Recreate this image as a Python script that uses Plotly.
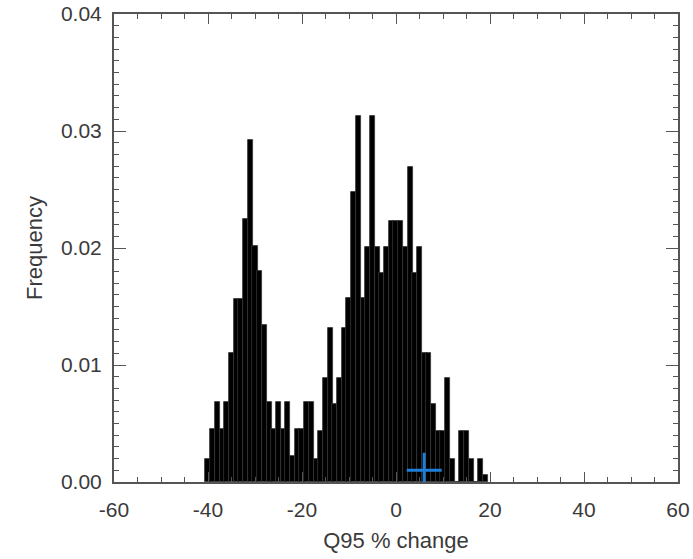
import plotly.graph_objects as go

# histogram bin centres (Q95 % change) and frequencies
bin_centers = list(range(-40, 20))
frequencies = [
    0.0020, 0.0045, 0.0068, 0.0045, 0.0068, 0.0110, 0.0156, 0.0156, 0.0225, 0.0292,  # -40..-31
    0.0202, 0.0180, 0.0134, 0.0068, 0.0045, 0.0068, 0.0045, 0.0068, 0.0022, 0.0045,  # -30..-21
    0.0045, 0.0068, 0.0068, 0.0020, 0.0044, 0.0089, 0.0132, 0.0067, 0.0089, 0.0132,  # -20..-11
    0.0157, 0.0248, 0.0313, 0.0157, 0.0201, 0.0313, 0.0201, 0.0179, 0.0201, 0.0223,  # -10..-1
    0.0223, 0.0223, 0.0201, 0.0269, 0.0179, 0.0201, 0.0110, 0.0110, 0.0067, 0.0044,  # 0..9
    0.0044, 0.0089, 0.0020, 0.0000, 0.0044, 0.0044, 0.0020, 0.0000, 0.0020, 0.0006,  # 10..19
]

# observed value marker
marker_x = [6.0]
marker_y = [0.001]

x_ticks = [-60, -40, -20, 0, 20, 40, 60]
y_ticks = [0.00, 0.01, 0.02, 0.03, 0.04]

fig = go.Figure()
fig.add_trace(go.Bar(
    x=bin_centers, y=frequencies, width=1.1,
    marker=dict(color="black", line=dict(color="#333333", width=0.8)),
    showlegend=False,
))
fig.add_trace(go.Scatter(
    x=marker_x, y=marker_y, mode="markers",
    marker=dict(symbol="cross-thin", size=25, line=dict(color="#1f7fd6", width=3)),
    showlegend=False,
))

tick_font = dict(family="Liberation Sans, Arial", size=21, color="#3a3a3a")
title_font = dict(family="Liberation Sans, Arial", size=22, color="#3a3a3a")

fig.update_layout(
    width=693, height=559,
    margin=dict(l=114, r=15, t=14, b=77),
    paper_bgcolor="white", plot_bgcolor="white",
    bargap=0,
    font=tick_font,
)
fig.update_xaxes(
    range=[-60, 60], tickvals=x_ticks, ticktext=[str(v) for v in x_ticks],
    showgrid=False, zeroline=False, automargin=False,
    showline=True, linecolor="#555555", linewidth=2, mirror="allticks",
    ticks="inside", ticklen=10, tickwidth=1, tickcolor="#555555",
    minor=dict(dtick=5, ticks="inside", ticklen=5, tickcolor="#555555", showgrid=False),
    tickfont=tick_font, ticklabelstandoff=8,
    title=dict(text="Q95 % change", font=title_font, standoff=12),
)
fig.update_yaxes(
    range=[0, 0.04], tickvals=y_ticks, ticktext=["%.2f" % v for v in y_ticks],
    showgrid=False, zeroline=False, automargin=False,
    showline=True, linecolor="#555555", linewidth=2, mirror="allticks",
    ticks="inside", ticklen=12, tickwidth=1, tickcolor="#555555",
    minor=dict(dtick=0.001, ticks="inside", ticklen=5, tickcolor="#555555", showgrid=False),
    tickfont=tick_font, ticklabelstandoff=6,
    title=dict(text="Frequency", font=title_font, standoff=12),
)

fig.write_html("out.html")
